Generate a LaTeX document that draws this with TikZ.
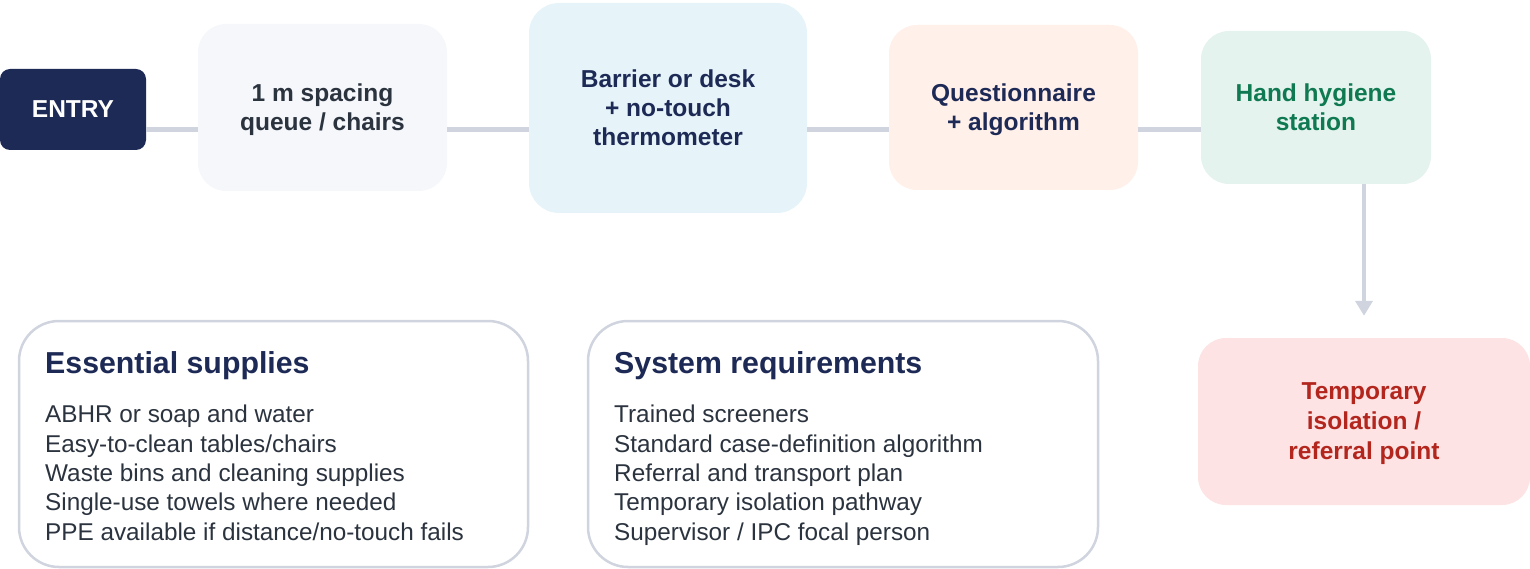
\documentclass[tikz,border=0pt]{standalone}
\usepackage{fontspec}
\setmainfont{Liberation Sans}
\usetikzlibrary{arrows.meta}
\definecolor{navy}{HTML}{1E2A56}
\definecolor{slate}{HTML}{2B333E}
\definecolor{linegray}{HTML}{D0D4DE}
\definecolor{qfill}{HTML}{F5F7FB}
\definecolor{bfill}{HTML}{E6F4FA}
\definecolor{qufill}{HTML}{FFF0EA}
\definecolor{hfill}{HTML}{E5F3EE}
\definecolor{hgreen}{HTML}{0F7A52}
\definecolor{tfill}{HTML}{FDE3E3}
\definecolor{tred}{HTML}{B3261E}
\tikzset{
  stepbox/.style={rectangle, rounded corners=28pt, align=center, inner sep=0pt, text depth=0pt,
    font=\fontsize{24.5}{29}\selectfont\bfseries},
  panel/.style={rectangle, rounded corners=40pt, draw=linegray, line width=2.5pt, fill=white, inner sep=0pt},
  paneltitle/.style={anchor=base west, inner sep=0pt, text=navy, font=\fontsize{30.3}{36}\selectfont\bfseries},
  panelitems/.style={anchor=north west, inner sep=0pt, align=left, text=slate, font=\fontsize{24.3}{29.3}\selectfont},
  link/.style={draw=linegray, line width=5pt},
}
\begin{document}
\begin{tikzpicture}[x=1pt,y=-1pt]
\useasboundingbox (0,0) rectangle (1530,569);
% flow nodes
\node[stepbox, rounded corners=10pt, fill=navy, text=white, minimum width=146pt, minimum height=81pt] (entry) at (73,109.5) {ENTRY};
\node[stepbox, fill=qfill, text=slate, minimum width=249pt, minimum height=167pt] (queue) at (322.5,107.5) {1 m spacing\\queue / chairs};
\node[stepbox, rounded corners=30pt, fill=bfill, text=navy, minimum width=278pt, minimum height=210pt] (barrier) at (668,108) {Barrier or desk\\+ no-touch\\thermometer};
\node[stepbox, fill=qufill, text=navy, minimum width=249pt, minimum height=165pt] (quest) at (1013.5,107.5) {Questionnaire\\+ algorithm};
\node[stepbox, fill=hfill, text=hgreen, minimum width=230pt, minimum height=153pt] (hand) at (1316,107.5) {Hand hygiene\\station};
\node[stepbox, fill=tfill, text=tred, minimum width=332pt, minimum height=167pt, font=\fontsize{24.5}{30}\selectfont\bfseries] (temp) at (1364,421.5) {Temporary\\isolation /\\referral point};
% connectors
\coordinate (lineY) at (0,130);
\draw[link] (entry.east |- lineY) -- (queue.west |- lineY);
\draw[link] (queue.east |- lineY) -- (barrier.west |- lineY);
\draw[link] (barrier.east |- lineY) -- (quest.west |- lineY);
\draw[link] (quest.east |- lineY) -- (hand.west |- lineY);
\draw[draw=linegray, line width=4pt, -{Triangle[length=15pt,width=17pt]}, shorten >=22pt] (temp.north |- hand.south) -- (temp.north);
% panels
\node[panel, minimum width=509pt, minimum height=246pt] (ess) at (273.5,444) {};
\node[panel, minimum width=510pt, minimum height=246pt] (sys) at (843,444) {};
\node[paneltitle] (esst) at (45,373) {Essential supplies};
\node[panelitems] (essi) at (45,405) {ABHR or soap and water\\Easy-to-clean tables/chairs\\Waste bins and cleaning supplies\\Single-use towels where needed\\PPE available if distance/no-touch fails};
\node[paneltitle] (syst) at (614,373) {System requirements};
\node[panelitems] (sysi) at (614,405) {Trained screeners\\Standard case-definition algorithm\\Referral and transport plan\\Temporary isolation pathway\\Supervisor / IPC focal person};
\end{tikzpicture}
\end{document}
